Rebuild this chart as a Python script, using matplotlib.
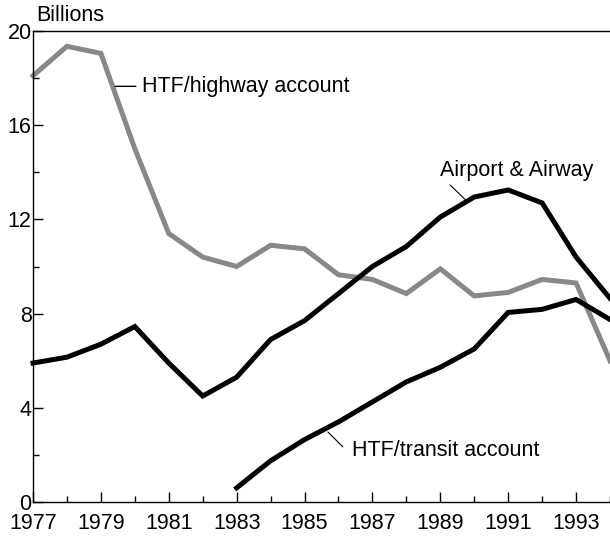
import matplotlib
matplotlib.use("Agg")
import matplotlib.pyplot as plt
from matplotlib.ticker import MultipleLocator

years = list(range(1977, 1995))
highway = [18.1, 19.35, 19.05, 15.0, 11.4, 10.4, 10.0, 10.9, 10.75, 9.65,
           9.45, 8.85, 9.9, 8.75, 8.9, 9.45, 9.3, 6.0]
airport = [5.9, 6.15, 6.7, 7.45, 5.9, 4.5, 5.3, 6.9, 7.7, 8.85,
           10.0, 10.85, 12.1, 12.95, 13.25, 12.7, 10.4, 8.65]
transit_years = list(range(1983, 1995))
transit = [0.6, 1.75, 2.65, 3.4, 4.25, 5.1, 5.72, 6.5, 8.05, 8.18, 8.6, 7.75]
xtick_years = list(range(1977, 1994, 2))

FS = 15.5
plt.rcParams['font.family'] = ['Liberation Sans', 'DejaVu Sans']

fig = plt.figure(figsize=(6.10, 5.38), dpi=100)
ax = fig.add_axes([33/610, 1-502/538, 1-33/610, 471/538])

ax.plot(years, highway, color='#888888', lw=3.6, solid_joinstyle='miter', clip_on=False)
ax.plot(years, airport, color='black', lw=3.6, solid_joinstyle='miter', clip_on=False)
ax.plot(transit_years, transit, color='black', lw=3.6, solid_joinstyle='miter', clip_on=False)

ax.set_xlim(1977, 1994)
ax.set_ylim(0, 20)
ax.set_xticks(xtick_years)
ax.set_xticklabels([str(y) for y in xtick_years])
ax.xaxis.set_minor_locator(MultipleLocator(1))
ax.yaxis.set_major_locator(MultipleLocator(4))
ax.yaxis.set_minor_locator(MultipleLocator(2))
ax.tick_params(which='both', direction='in', labelsize=FS, width=1, top=False, right=False)
ax.tick_params(which='major', length=7)
ax.tick_params(which='minor', length=4)
ax.tick_params(axis='x', pad=8)
ax.tick_params(axis='y', pad=1)
ax.spines['right'].set_visible(False)
for s in ['left', 'bottom', 'top']:
    ax.spines[s].set_linewidth(1)

# labels with leader lines
leader = dict(arrowstyle='-', lw=0.8, color='black', shrinkA=0, shrinkB=0)
ax.annotate('', xy=(1979.42, 17.65), xytext=(1980.03, 17.65),
            arrowprops=dict(leader, lw=1))
ax.text(1980.2, 17.65, 'HTF/highway account', fontsize=FS, va='center', ha='left')
ax.annotate('', xy=(1989.73, 12.85), xytext=(1989.29, 13.46), arrowprops=leader)
ax.text(1989.0, 13.84, 'Airport & Airway', fontsize=FS, va='baseline', ha='left')
ax.annotate('', xy=(1985.69, 2.97), xytext=(1986.13, 2.34), arrowprops=leader)
ax.text(1986.4, 2.2, 'HTF/transit account', fontsize=FS, va='center', ha='left')

fig.text(36/610, 1-21/538, 'Billions', fontsize=FS, ha='left', va='baseline')

fig.savefig('out.png', dpi=100)
